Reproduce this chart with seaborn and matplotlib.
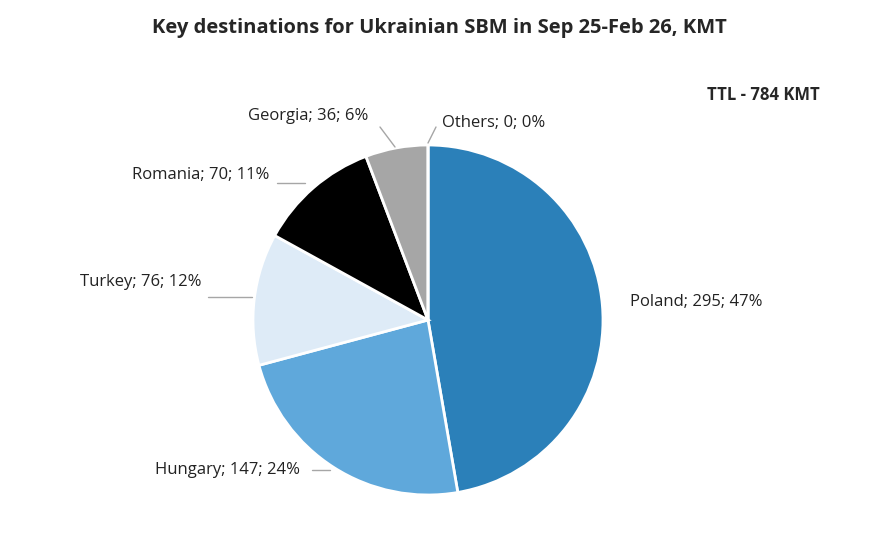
import numpy as np
import matplotlib
matplotlib.use("Agg")
import matplotlib.pyplot as plt
import seaborn as sns

countries = ["Poland", "Hungary", "Turkey", "Romania", "Georgia", "Others"]
values = [295, 147, 76, 70, 36, 0]
percents = ["47%", "24%", "12%", "11%", "6%", "0%"]
colors = ["#2b80b9", "#5fa8db", "#deebf7", "#000000", "#a6a6a6", "#7f7f7f"]

sns.set_theme(style="white")
plt.rcParams['font.family'] = ['Open Sans', 'DejaVu Sans']

fig = plt.figure(figsize=(8.79, 5.47), dpi=100)
ax = fig.add_axes([0, 0, 1, 1])

cx, cy, r = 428, 320, 175
# y axis is inverted below: startangle -90 is the visual top, counterclock appears clockwise
wedges, _ = ax.pie(values, colors=colors, startangle=-90, counterclock=True,
                   center=(cx, cy), radius=r,
                   wedgeprops=dict(edgecolor="white", linewidth=2))
ax.set_xlim(0, 879)
ax.set_ylim(547, 0)
ax.axis("off")

label_pos = [(630, 302), (155, 470), (80, 282), (132, 175), (248, 116), (442, 123)]
line_start = [None, (312, 470), (208, 297), (277, 183), (380, 127), (436, 127)]
line_end = [None, (330, 470), (252, 297), (305, 183), (395, 147), (428, 143)]

for i, (c, v, p) in enumerate(zip(countries, values, percents)):
    x, y = label_pos[i]
    ax.text(x, y, f"{c}; {v}; {p}", fontsize=12, ha="left", va="center", color="#222222")
    if line_end[i] is not None:
        ax.plot([line_start[i][0], line_end[i][0]], [line_start[i][1], line_end[i][1]],
                color="#a6a6a6", lw=1)

fig.text(0.5, 0.948, "Key destinations for Ukrainian SBM in Sep 25-Feb 26, KMT",
         ha="center", va="center", fontsize=14.5, fontweight="bold")
fig.text(0.933, 0.826, "TTL - 784 KMT", ha="right", va="center",
         fontsize=12, fontweight="bold")

fig.savefig("out.png", dpi=100)
